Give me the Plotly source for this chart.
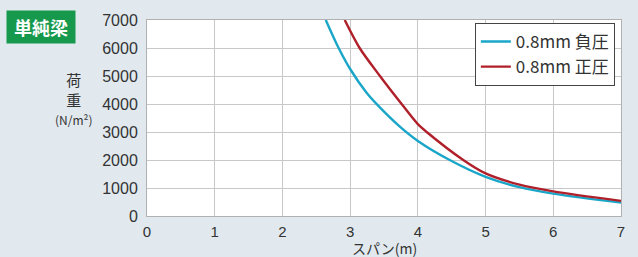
import plotly.graph_objects as go

# Data
neg_x = [2.64, 2.83, 3.0, 3.24, 3.41, 3.73, 4.0, 4.47, 5.0, 5.5, 6.0, 7.0]
neg_y = [7000, 6000, 5250, 4410, 3950, 3200, 2680, 2000, 1400, 1030, 800, 480]
pos_x = [2.92, 3.14, 3.44, 3.76, 4.0, 4.13, 4.67, 5.0, 5.5, 6.0, 7.0]
pos_y = [7000, 6000, 5000, 4000, 3280, 3000, 2000, 1520, 1120, 880, 540]
x_ticks = [0, 1, 2, 3, 4, 5, 6, 7]
y_ticks = [0, 1000, 2000, 3000, 4000, 5000, 6000, 7000]
neg_name = "0.8mm 負圧"
pos_name = "0.8mm 正圧"
x_title = "スパン(m)"

BG = "#e1e9ef"
FONT = "Liberation Sans Narrow, Liberation Sans, Noto Sans CJK JP, sans-serif"
JP = "Noto Sans CJK JP, sans-serif"

fig = go.Figure()
fig.add_trace(go.Scatter(x=neg_x, y=neg_y, mode="lines", name=neg_name,
                         line=dict(color="#1aa6c8", width=2.4, shape="spline", smoothing=1.0)))
fig.add_trace(go.Scatter(x=pos_x, y=pos_y, mode="lines", name=pos_name,
                         line=dict(color="#b0202a", width=2.4, shape="spline", smoothing=0.8)))

fig.update_layout(
    width=638, height=257,
    margin=dict(l=147, r=17, t=16, b=41),
    paper_bgcolor=BG, plot_bgcolor="white",
    font=dict(family=FONT, size=14, color="#333333"),
    showlegend=True,
    legend=dict(x=0.987, y=0.985, xanchor="right", yanchor="top",
                bgcolor="white", bordercolor="#444444", borderwidth=1,
                font=dict(family=JP, size=17, color="#333333"),
                tracegroupgap=0, itemwidth=30),
    xaxis=dict(range=[0, 7], tickvals=x_ticks, showgrid=True, gridcolor="#c8c8c8",
               gridwidth=1, showline=True, linecolor="#b0b0b0", mirror=True,
               zeroline=False, ticks="", tickfont=dict(size=15), ticklabelstandoff=2),
    yaxis=dict(range=[0, 7000], tickvals=y_ticks, showgrid=True, gridcolor="#c8c8c8",
               gridwidth=1, showline=True, linecolor="#b0b0b0", mirror=True,
               zeroline=False, ticks="", tickfont=dict(size=16), ticklabelstandoff=5),
)

fig.add_annotation(xref="paper", yref="paper", x=0.5, y=-0.162, xanchor="center", yanchor="middle",
                   text=x_title, showarrow=False,
                   font=dict(family=JP, size=14, color="#333333"))
fig.add_annotation(xref="paper", yref="paper", x=-0.153, y=0.6, xanchor="center", yanchor="middle",
                   text="荷<br>重<br><span style='font-size:12px'>(N/m²)</span>", showarrow=False,
                   font=dict(family=JP, size=15, color="#333333"))
fig.add_annotation(xref="paper", yref="paper", x=-0.297, y=1.05, xanchor="left", yanchor="top",
                   text="<b>&nbsp;単純梁&nbsp;</b>", showarrow=False, bgcolor="#17994d", borderpad=3,
                   font=dict(family=JP, size=18, color="white"))

fig.write_html("out.html", post_script="document.body.style.margin='0';",
               config={"displayModeBar": False})
